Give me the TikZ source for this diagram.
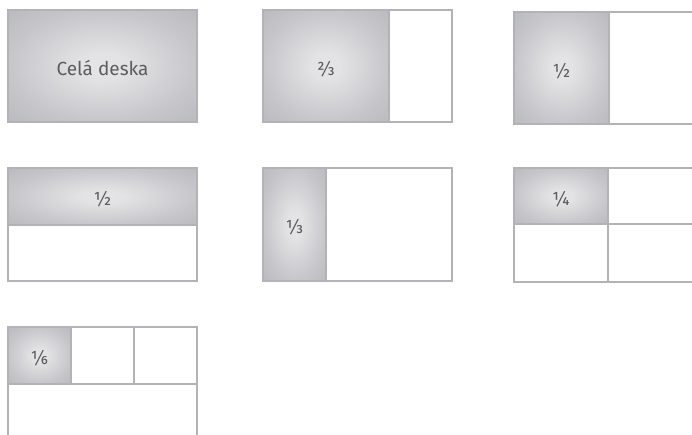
\documentclass[tikz,border=0pt]{standalone}
\usepackage{fontspec}
\setmainfont{Fira Sans}
\definecolor{framegray}{HTML}{B3B3B7}
\definecolor{shadein}{HTML}{E5E5E7}
\definecolor{shademid}{HTML}{C6C6CA}
\definecolor{shadeout}{HTML}{B9BABE}
\definecolor{txtgray}{HTML}{5C5C5E}
\pgfdeclareradialshading{softglow}{\pgfpoint{0bp}{0bp}}{color(0bp)=(shadein); color(6bp)=(shadein!92!shademid); color(25bp)=(shademid); color(36bp)=(shadeout); color(50bp)=(shadeout)}
\tikzset{
  cellbase/.style={draw=framegray, line width=1.6pt, anchor=north west, inner sep=0pt, outer sep=0pt},
  gcell/.style={cellbase, shading=softglow},
  wcell/.style={cellbase, fill=white},
  lbl/.style={text=txtgray, font=\fontsize{19}{22}\selectfont, inner sep=0pt},
}
\begin{document}
\begin{tikzpicture}[x=1pt,y=-1pt]
\useasboundingbox (0,0) rectangle (692,435);
\clip (0,0) rectangle (692,435);
% Row 1
\node[gcell, minimum width=189pt, minimum height=112pt] (whole) at (8,10) {};
\node[gcell, minimum width=126pt, minimum height=112pt] (twothirds) at (263,10) {};
\node[wcell, minimum width=63pt, minimum height=112pt] (twothirdsrest) at (twothirds.north east) {};
\node[gcell, minimum width=95pt, minimum height=112pt] (halfv) at (514,12) {};
\node[wcell, minimum width=95pt, minimum height=112pt] (halfvrest) at (halfv.north east) {};
% Row 2
\node[gcell, minimum width=189pt, minimum height=57pt] (halfh) at (8,168) {};
\node[wcell, minimum width=189pt, minimum height=56pt] (halfhrest) at (halfh.south west) {};
\node[gcell, minimum width=63pt, minimum height=113pt] (third) at (263,168) {};
\node[wcell, minimum width=126pt, minimum height=113pt] (thirdrest) at (third.north east) {};
\node[gcell, minimum width=94pt, minimum height=56pt] (quarter) at (514,168) {};
\node[wcell, minimum width=95pt, minimum height=56pt] (quarterb) at (quarter.north east) {};
\node[wcell, minimum width=94pt, minimum height=58pt] (quarterc) at (quarter.south west) {};
\node[wcell, minimum width=95pt, minimum height=58pt] (quarterd) at (quarter.south east) {};
% Row 3
\node[gcell, minimum width=63pt, minimum height=57pt] (sixth) at (8,327) {};
\node[wcell, minimum width=63pt, minimum height=57pt] (sixthb) at (sixth.north east) {};
\node[wcell, minimum width=63pt, minimum height=57pt] (sixthc) at (sixthb.north east) {};
\node[wcell, minimum width=189pt, minimum height=57pt] (sixthrest) at (sixth.south west) {};
% Labels
\node[lbl] (wholet) at ([yshift=-2.5pt]whole.center) {Celá deska};
\node[lbl] (twothirdst) at ([yshift=-3pt]twothirds.center) {⅔};
\node[lbl] (halfvt) at ([yshift=-3pt]halfv.center) {½};
\node[lbl] (halfht) at ([yshift=-3pt]halfh.center) {½};
\node[lbl] (thirdt) at ([yshift=-3pt]third.center) {⅓};
\node[lbl] (quartert) at ([yshift=-3pt]quarter.center) {¼};
\node[lbl] (sixtht) at ([yshift=-3pt]sixth.center) {⅙};
\end{tikzpicture}
\end{document}
